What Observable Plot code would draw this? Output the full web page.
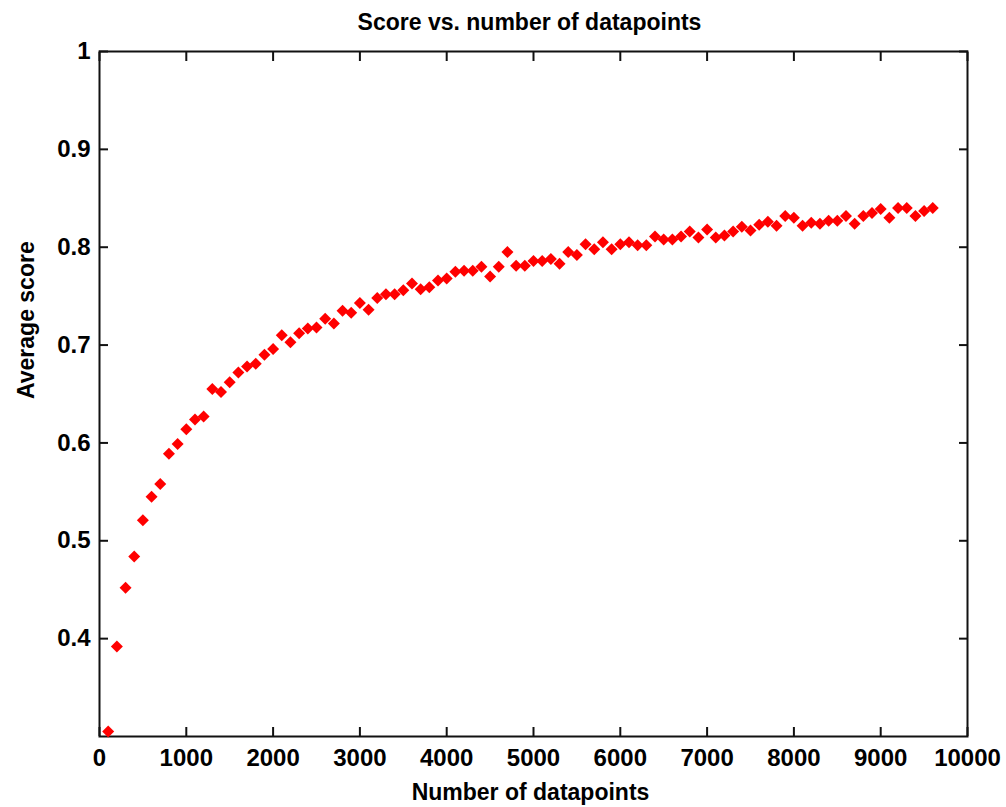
<!DOCTYPE html>
<html>
<head>
<meta charset="utf-8">
<script src="https://cdn.jsdelivr.net/npm/d3@7"></script>
<script src="https://cdn.jsdelivr.net/npm/@observablehq/plot@0.6"></script>
<style>
  html, body { margin: 0; padding: 0; background: #fff; }
  #chart { width: 1006px; height: 807px; }
</style>
</head>
<body>
<div id="chart"></div>
<script>
const titleText = "Score vs. number of datapoints";
const xLabel = "Number of datapoints";
const yLabel = "Average score";

const datapoints = [
  100, 200, 300, 400, 500, 600, 700, 800, 900, 1000,
  1100, 1200, 1300, 1400, 1500, 1600, 1700, 1800, 1900, 2000,
  2100, 2200, 2300, 2400, 2500, 2600, 2700, 2800, 2900, 3000,
  3100, 3200, 3300, 3400, 3500, 3600, 3700, 3800, 3900, 4000,
  4100, 4200, 4300, 4400, 4500, 4600, 4700, 4800, 4900, 5000,
  5100, 5200, 5300, 5400, 5500, 5600, 5700, 5800, 5900, 6000,
  6100, 6200, 6300, 6400, 6500, 6600, 6700, 6800, 6900, 7000,
  7100, 7200, 7300, 7400, 7500, 7600, 7700, 7800, 7900, 8000,
  8100, 8200, 8300, 8400, 8500, 8600, 8700, 8800, 8900, 9000,
  9100, 9200, 9300, 9400, 9500, 9600
];

const scores = [
  0.305, 0.392, 0.452, 0.484, 0.521, 0.545, 0.558, 0.589, 0.599, 0.614,
  0.624, 0.627, 0.655, 0.652, 0.662, 0.672, 0.678, 0.681, 0.690, 0.696,
  0.710, 0.703, 0.712, 0.717, 0.718, 0.727, 0.722, 0.735, 0.733, 0.743,
  0.736, 0.748, 0.752, 0.752, 0.756, 0.763, 0.757, 0.759, 0.766, 0.768,
  0.775, 0.776, 0.776, 0.780, 0.770, 0.780, 0.795, 0.781, 0.781, 0.786,
  0.786, 0.788, 0.783, 0.795, 0.792, 0.803, 0.798, 0.805, 0.798, 0.803,
  0.805, 0.802, 0.802, 0.811, 0.808, 0.808, 0.811, 0.816, 0.810, 0.818,
  0.810, 0.812, 0.816, 0.821, 0.817, 0.823, 0.826, 0.822, 0.832, 0.830,
  0.822, 0.825, 0.824, 0.827, 0.827, 0.832, 0.824, 0.832, 0.835, 0.839,
  0.830, 0.840, 0.840, 0.832, 0.837, 0.840
];

const xTicks = [0, 1000, 2000, 3000, 4000, 5000, 6000, 7000, 8000, 9000, 10000];
const yTicks = [0.4, 0.5, 0.6, 0.7, 0.8, 0.9, 1];

const data = datapoints.map((x, i) => ({x, y: scores[i]}));

const font = "'Liberation Sans', Arial, Helvetica, sans-serif";
const yFmt = d => d === 1 ? "1" : d.toFixed(1);
const xFmt = d => String(d);

const chart = Plot.plot({
  width: 1006,
  height: 807,
  marginLeft: 99,
  marginRight: 39,
  marginTop: 51,
  marginBottom: 71,
  style: {fontFamily: font, background: "#fff", color: "#000"},
  x: {domain: [0, 10000], label: null},
  y: {domain: [0.3, 1], label: null},
  marks: [
    Plot.frame({stroke: "#111", strokeWidth: 2}),
    // inward ticks on all four sides
    Plot.axisX(xTicks, {anchor: "bottom", tickSize: -9, tickFormat: () => "", strokeWidth: 2, stroke: "#111", label: null}),
    Plot.axisX(xTicks, {anchor: "top", tickSize: -9, tickFormat: () => "", strokeWidth: 2, stroke: "#111", label: null}),
    Plot.axisY(yTicks, {anchor: "left", tickSize: -9, tickFormat: () => "", strokeWidth: 2, stroke: "#111", label: null}),
    Plot.axisY(yTicks, {anchor: "right", tickSize: -9, tickFormat: () => "", strokeWidth: 2, stroke: "#111", label: null}),
    // tick labels
    Plot.axisX(xTicks, {anchor: "bottom", tickSize: 0, tickPadding: 12, tickFormat: xFmt, fontSize: 24, fontWeight: "bold", fill: "#000", label: null}),
    Plot.axisY(yTicks, {anchor: "left", tickSize: 0, tickPadding: 9, tickFormat: yFmt, fontSize: 24, fontWeight: "bold", fill: "#000", label: null}),
    // data
    Plot.dot(data, {x: "x", y: "y", symbol: "diamond2", r: 5.4, fill: "#ff0000", stroke: "none"}),
    // titles
    Plot.text([titleText], {frameAnchor: "top", lineAnchor: "bottom", dy: -22, dx: -4, fontSize: 23, fontWeight: "bold", fill: "#000"}),
    Plot.text([xLabel], {frameAnchor: "bottom", lineAnchor: "bottom", dy: 63, dx: -3, fontSize: 23, fontWeight: "bold", fill: "#000"}),
    Plot.text([yLabel], {frameAnchor: "left", lineAnchor: "bottom", rotate: -90, dx: -66, dy: 5, fontSize: 23, fontWeight: "bold", fill: "#000"})
  ]
});

document.getElementById("chart").appendChild(chart);
</script>
</body>
</html>
